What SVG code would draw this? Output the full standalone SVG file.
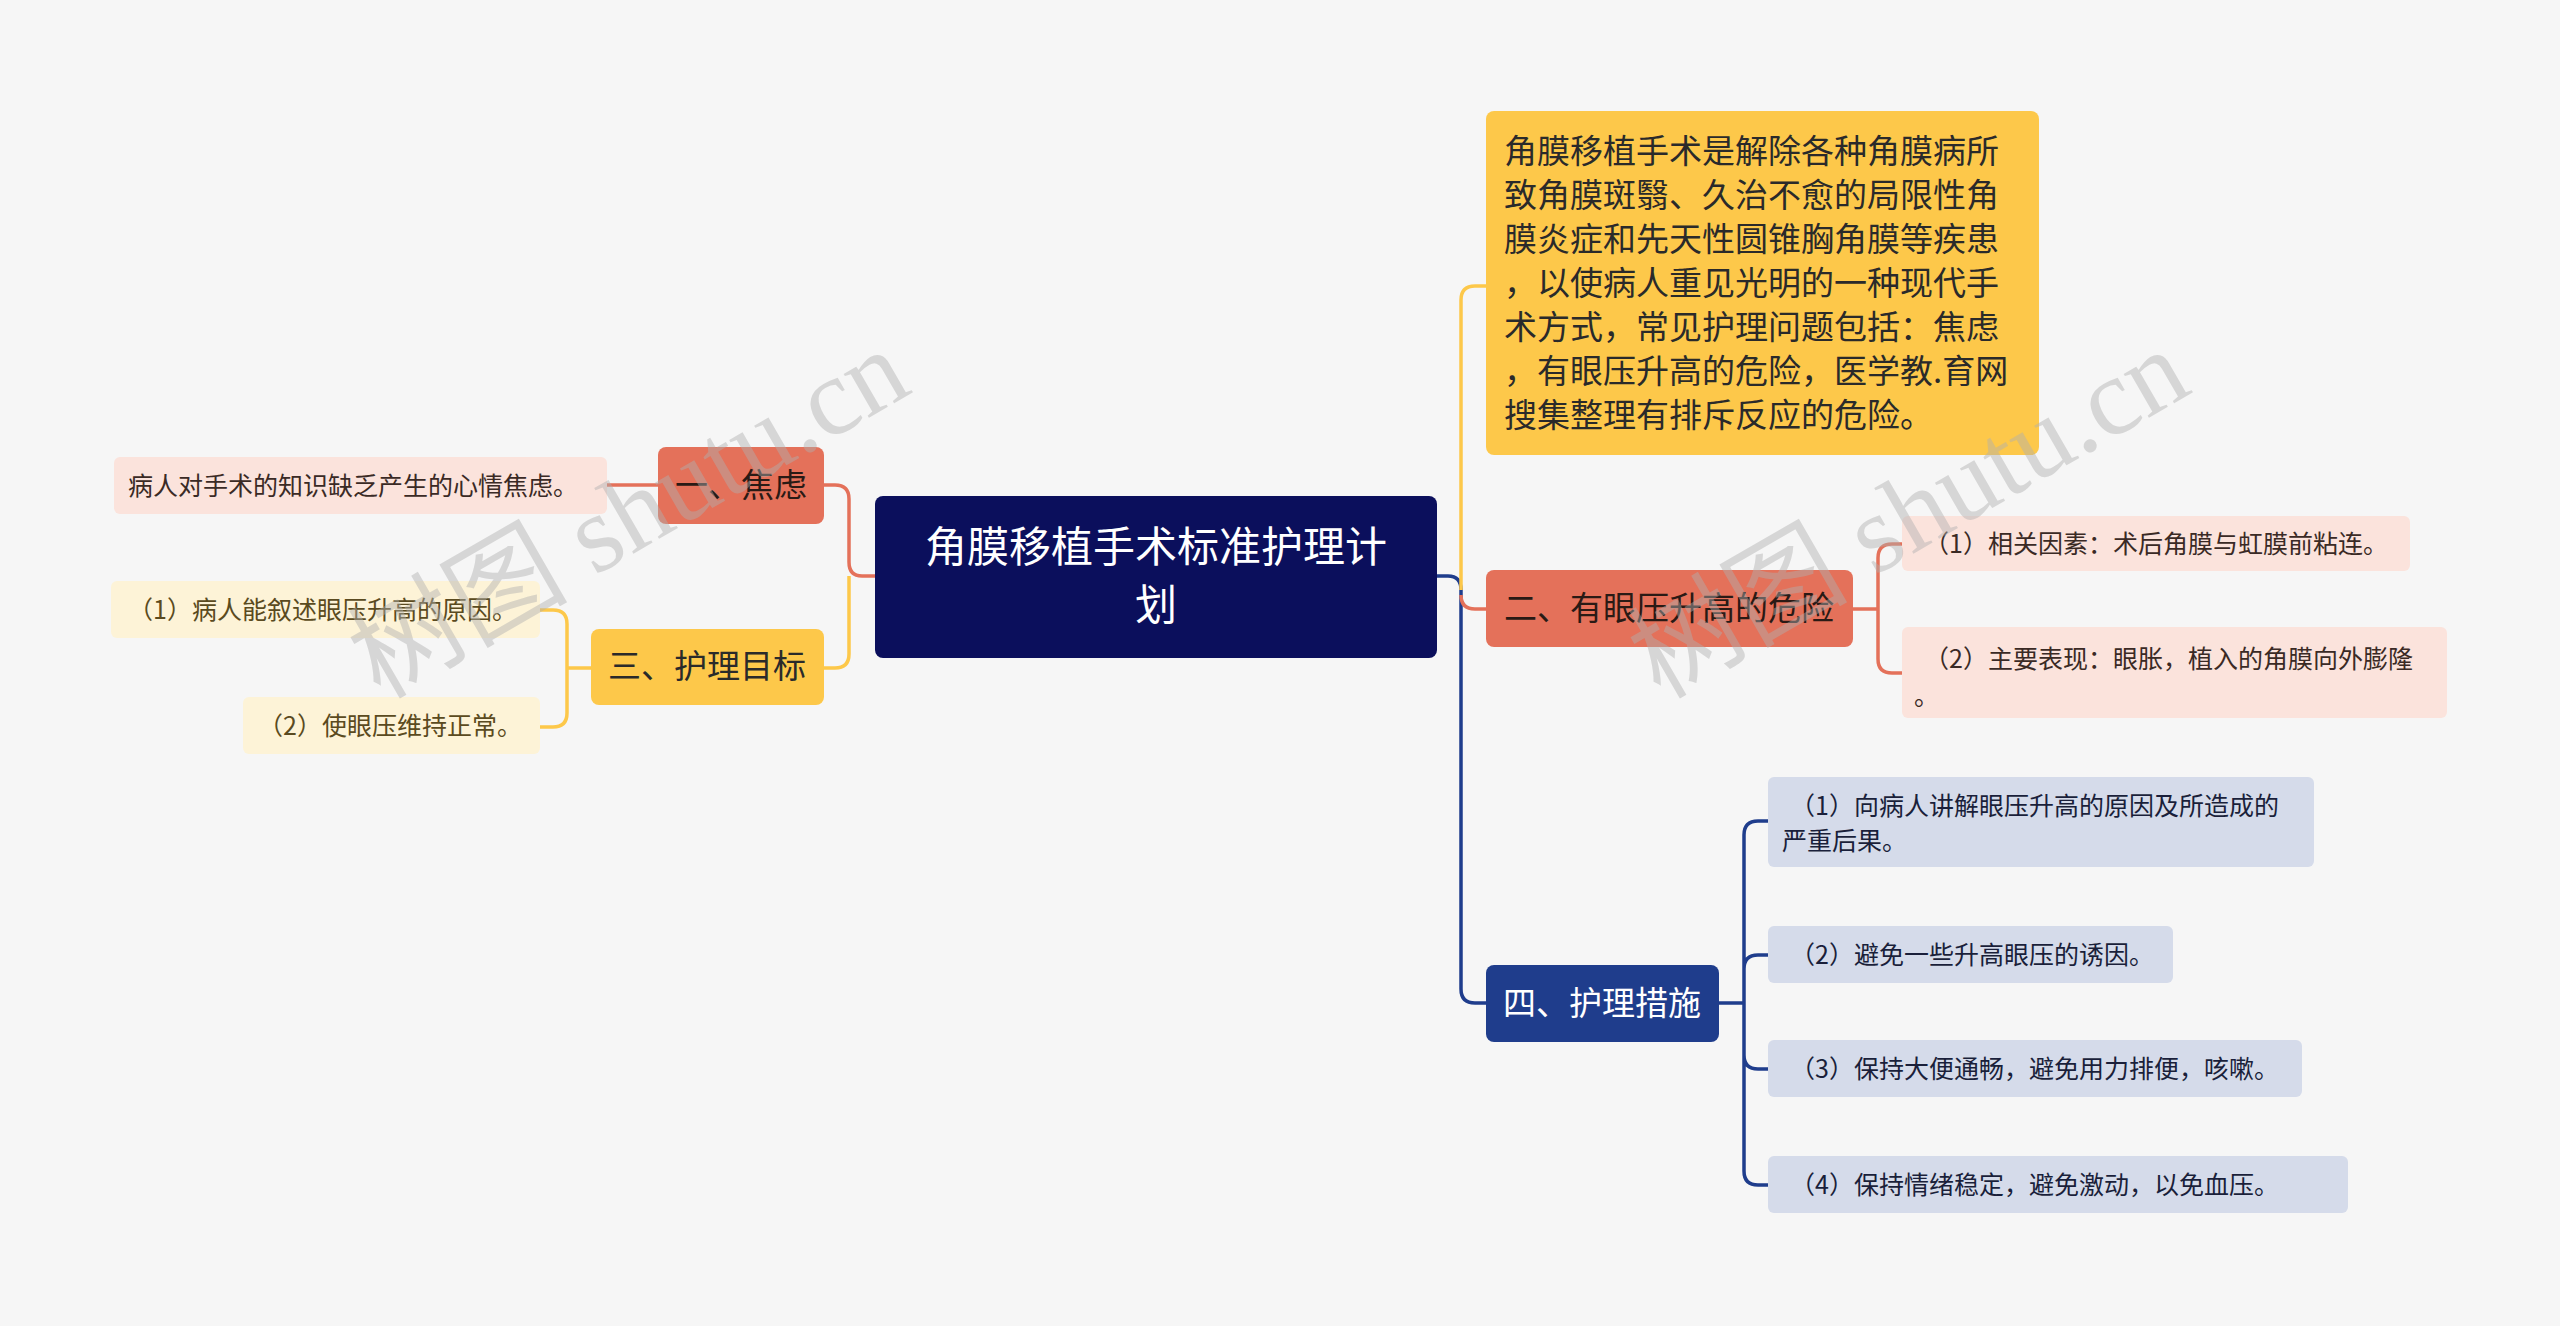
<svg xmlns="http://www.w3.org/2000/svg" width="2560" height="1326" viewBox="0 0 2560 1326">
<style>
text{font-family:"Noto Sans CJK SC","Liberation Sans",sans-serif}
.c{fill:none;stroke-width:3.5}
.big{font-size:33px}
.sm{font-size:25px}
.wm{font-size:110px;fill:#b0b0b0;opacity:0.45;font-family:"Liberation Serif","Noto Sans CJK SC",serif}
</style>
<rect width="2560" height="1326" fill="#f6f6f6"/>
<g id="connectors">
<path class="c" stroke="#1f3d8c" d="M1437,576 H1448 Q1461,576 1461,590 V989 Q1461,1003 1475,1003 H1486"/>
<path class="c" stroke="#fdc84a" d="M1461,590 V300 Q1461,286 1475,286 H1486"/>
<path class="c" stroke="#e4715a" d="M1461,595 Q1461,609 1475,609 H1486"/>
<path class="c" stroke="#e4715a" d="M1853,609 H1878 V558 Q1878,544 1892,544 H1902 M1878,609 V659 Q1878,673 1892,673 H1902"/>
<path class="c" stroke="#1f3d8c" d="M1719,1003 H1744 V835 Q1744,821 1758,821 H1768 M1744,969 Q1744,955 1758,955 H1768 M1744,1003 V1171 Q1744,1185 1758,1185 H1768 M1744,1055 Q1744,1069 1758,1069 H1768"/>
<path class="c" stroke="#e4715a" d="M875,576 H862 Q849,576 849,562 V499 Q849,485 835,485 H824"/>
<path class="c" stroke="#fdc84a" d="M849,576 V654 Q849,668 835,668 H824"/>
<path class="c" stroke="#e4715a" d="M658,485 H607"/>
<path class="c" stroke="#fdc84a" d="M591,668 H567 V624 Q567,610 553,610 H540 M567,668 V713 Q567,727 553,727 H540"/>
</g>
<g id="center"><rect x="875" y="496" width="562" height="162" rx="8" fill="#0b0f5c"/>
<text x="1156" y="562" font-size="42" fill="#fff" text-anchor="middle">角膜移植手术标准护理计</text>
<text x="1156" y="620" font-size="42" fill="#fff" text-anchor="middle">划</text></g>
<g id="intro"><rect x="1486" y="111" width="553" height="344" rx="8" fill="#fdc84a"/>
<g class="big" fill="#2a2a2a">
<text x="1504" y="163">角膜移植手术是解除各种角膜病所</text>
<text x="1504" y="207">致角膜斑翳、久治不愈的局限性角</text>
<text x="1504" y="251">膜炎症和先天性圆锥胸角膜等疾患</text>
<text x="1504" y="295">，以使病人重见光明的一种现代手</text>
<text x="1504" y="339">术方式，常见护理问题包括：焦虑</text>
<text x="1504" y="383">，有眼压升高的危险，医学教.育网</text>
<text x="1504" y="427">搜集整理有排斥反应的危险。</text></g></g>
<g id="n2"><rect x="1486" y="570" width="367" height="77" rx="8" fill="#e4715a"/>
<text x="1669" y="620" class="big" fill="#2a1a15" text-anchor="middle">二、有眼压升高的危险</text></g>
<g id="n2a"><rect x="1902" y="516" width="508" height="55" rx="6" fill="#fbe3dc"/>
<text x="1924" y="553" class="sm" fill="#3a2a25">（1）相关因素：术后角膜与虹膜前粘连。</text></g>
<g id="n2b"><rect x="1902" y="627" width="545" height="91" rx="6" fill="#fbe3dc"/>
<text x="1924" y="668" class="sm" fill="#3a2a25">（2）主要表现：眼胀，植入的角膜向外膨隆</text>
<text x="1914" y="705" class="sm" fill="#3a2a25">。</text></g>
<g id="n4"><rect x="1486" y="965" width="233" height="77" rx="8" fill="#1f3d8c"/>
<text x="1602" y="1015" class="big" fill="#fff" text-anchor="middle">四、护理措施</text></g>
<g id="n4a"><rect x="1768" y="777" width="546" height="90" rx="6" fill="#d5dbea"/>
<text x="1790" y="815" class="sm" fill="#1a1f3a">（1）向病人讲解眼压升高的原因及所造成的</text>
<text x="1782" y="850" class="sm" fill="#1a1f3a">严重后果。</text></g>
<g id="n4b"><rect x="1768" y="926" width="405" height="57" rx="6" fill="#d5dbea"/>
<text x="1790" y="964" class="sm" fill="#1a1f3a">（2）避免一些升高眼压的诱因。</text></g>
<g id="n4c"><rect x="1768" y="1040" width="534" height="57" rx="6" fill="#d5dbea"/>
<text x="1790" y="1078" class="sm" fill="#1a1f3a">（3）保持大便通畅，避免用力排便，咳嗽。</text></g>
<g id="n4d"><rect x="1768" y="1156" width="580" height="57" rx="6" fill="#d5dbea"/>
<text x="1790" y="1194" class="sm" fill="#1a1f3a">（4）保持情绪稳定，避免激动，以免血压。</text></g>
<g id="n1"><rect x="658" y="447" width="166" height="77" rx="8" fill="#e4715a"/>
<text x="741" y="497" class="big" fill="#2a1a15" text-anchor="middle">一、焦虑</text></g>
<g id="n1a"><rect x="114" y="457" width="493" height="57" rx="6" fill="#fbe3dc"/>
<text x="128" y="495" class="sm" fill="#3a2a25">病人对手术的知识缺乏产生的心情焦虑。</text></g>
<g id="n3"><rect x="591" y="629" width="233" height="76" rx="8" fill="#fdc84a"/>
<text x="707" y="678" class="big" fill="#2a2a2a" text-anchor="middle">三、护理目标</text></g>
<g id="n3a"><rect x="111" y="581" width="429" height="57" rx="6" fill="#fdf3d7"/>
<text x="128" y="619" class="sm" fill="#5a4a20">（1）病人能叙述眼压升高的原因。</text></g>
<g id="n3b"><rect x="243" y="697" width="297" height="57" rx="6" fill="#fdf3d7"/>
<text x="258" y="735" class="sm" fill="#5a4a20">（2）使眼压维持正常。</text></g>
<text class="wm" transform="translate(380,700) rotate(-30)">树图 shutu.cn</text>
<text class="wm" transform="translate(1660,700) rotate(-30)">树图 shutu.cn</text>
</svg>
